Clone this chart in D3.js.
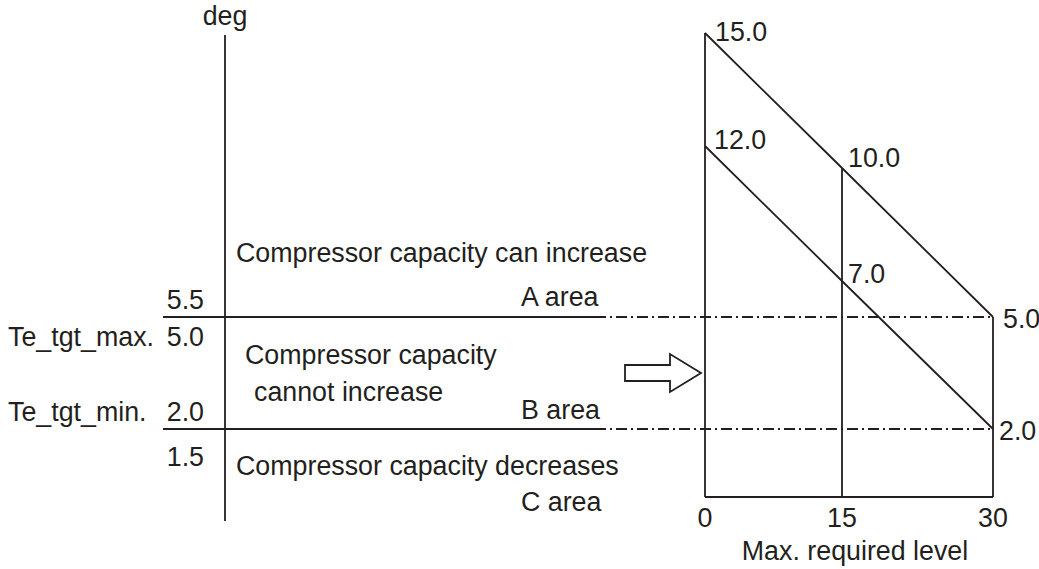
<!DOCTYPE html>
<html>
<head>
<meta charset="utf-8">
<script src="https://cdn.jsdelivr.net/npm/d3@7"></script>
<style>
  html, body { margin: 0; padding: 0; background: #fff; }
  svg text { font-family: "Liberation Sans", Arial, Helvetica, sans-serif; fill: #231f20; }
</style>
</head>
<body>
<svg id="chart" width="1039" height="569"></svg>
<script>
// ---- data ----
const levels = [0, 15, 30];                 // Max. required level ticks
const levelLabels = ["0", "15", "30"];
const upperLine = [15.0, 10.0, 5.0];        // deg at levels 0, 15, 30
const lowerLine = [12.0, 7.0, 2.0];
const tgtMax = 5.0;
const tgtMin = 2.0;
const boundaryLabels = ["5.5", "5.0", "2.0", "1.5"];
const targetNames = ["Te_tgt_max.", "Te_tgt_min."];
const areaTexts = ["Compressor capacity can increase", "Compressor capacity", "cannot increase", "Compressor capacity decreases"];
const areaNames = ["A area", "B area", "C area"];
const axisTitleY = "deg";
const axisTitleX = "Max. required level";

// ---- scales (schematic, piecewise linear) ----
const x = d3.scaleLinear().domain([0, 15, 30]).range([705, 842, 993]);
const y = d3.scaleLinear().domain([0, 2, 5, 7, 10, 12, 15]).range([497, 429, 317, 281, 168, 146, 33]);

const ink = "#231f20";
const sw = 1.8;
const fs = 26.8;
const svg = d3.select("#chart");

// ---- left diagram ----
const axX = 225;
svg.append("line").attr("x1", axX).attr("x2", axX).attr("y1", 35).attr("y2", 521)
  .attr("stroke", ink).attr("stroke-width", sw);
svg.append("text").attr("x", axX).attr("y", 25).attr("text-anchor", "middle")
  .attr("font-size", fs).text(axisTitleY);

const leftStart = 163, solidEnd = 595;
[tgtMax, tgtMin].forEach(v => {
  svg.append("line").attr("x1", leftStart).attr("x2", solidEnd).attr("y1", y(v)).attr("y2", y(v))
    .attr("stroke", ink).attr("stroke-width", sw);
  svg.append("line").attr("x1", solidEnd).attr("x2", x(30)).attr("y1", y(v)).attr("y2", y(v))
    .attr("stroke", ink).attr("stroke-width", sw).attr("stroke-dasharray", "11,4,2,4");
});

// boundary value labels (right aligned)
const bl = [
  {t: boundaryLabels[0], yy: y(tgtMax) - 8},
  {t: boundaryLabels[1], yy: y(tgtMax) + 29},
  {t: boundaryLabels[2], yy: y(tgtMin) - 8},
  {t: boundaryLabels[3], yy: y(tgtMin) + 37}
];
bl.forEach(d => svg.append("text").attr("x", 204).attr("y", d.yy).attr("text-anchor", "end")
  .attr("font-size", fs).text(d.t));
svg.append("text").attr("x", 8).attr("y", y(tgtMax) + 29).attr("font-size", fs).text(targetNames[0]);
svg.append("text").attr("x", 8).attr("y", y(tgtMin) - 8).attr("font-size", fs).text(targetNames[1]);

// area descriptions
svg.append("text").attr("x", 236).attr("y", y(tgtMax) - 55).attr("font-size", fs).text(areaTexts[0]);
svg.append("text").attr("x", 245).attr("y", y(tgtMax) + 47).attr("font-size", fs).text(areaTexts[1]);
svg.append("text").attr("x", 254).attr("y", y(tgtMax) + 84).attr("font-size", fs).text(areaTexts[2]);
svg.append("text").attr("x", 236).attr("y", y(tgtMin) + 46).attr("font-size", fs).text(areaTexts[3]);
svg.append("text").attr("x", 521).attr("y", y(tgtMax) - 11).attr("font-size", fs).text(areaNames[0]);
svg.append("text").attr("x", 521).attr("y", y(tgtMin) - 10).attr("font-size", fs).text(areaNames[1]);
svg.append("text").attr("x", 521).attr("y", y(tgtMin) + 82).attr("font-size", fs).text(areaNames[2]);

// ---- arrow ----
const ax0 = x(0), ay = (y(tgtMax) + y(tgtMin)) / 2;
const arrowPts = [
  [ax0 - 80, ay - 8], [ax0 - 35, ay - 8], [ax0 - 35, ay - 19], [ax0 - 4, ay],
  [ax0 - 35, ay + 19], [ax0 - 35, ay + 8], [ax0 - 80, ay + 8]
];
svg.append("polygon").attr("points", arrowPts.map(p => p.join(",")).join(" "))
  .attr("fill", "#fff").attr("stroke", ink).attr("stroke-width", sw).attr("stroke-linejoin", "miter");

// ---- right diagram ----
svg.append("line").attr("x1", x(0)).attr("x2", x(30)).attr("y1", y(0)).attr("y2", y(0))
  .attr("stroke", ink).attr("stroke-width", sw);
levels.forEach((l, i) => {
  svg.append("line").attr("x1", x(l)).attr("x2", x(l)).attr("y1", y(upperLine[i])).attr("y2", y(0))
    .attr("stroke", ink).attr("stroke-width", sw);
});
const lineGen = d3.line().x((d, i) => x(levels[i])).y(d => y(d));
[upperLine, lowerLine].forEach(s => {
  svg.append("path").attr("d", lineGen(s)).attr("fill", "none")
    .attr("stroke", ink).attr("stroke-width", sw);
});

// value labels
const fmt = d3.format(".1f");
const upOff = [[10, 8], [6, -1], [10, 11]];
const loOff = [[9, 3], [6, 2], [6, 11]];
upperLine.forEach((v, i) => svg.append("text").attr("x", x(levels[i]) + upOff[i][0])
  .attr("y", y(v) + upOff[i][1]).attr("font-size", fs).text(fmt(v)));
lowerLine.forEach((v, i) => svg.append("text").attr("x", x(levels[i]) + loOff[i][0])
  .attr("y", y(v) + loOff[i][1]).attr("font-size", fs).text(fmt(v)));

// x tick labels
levels.forEach((l, i) => svg.append("text").attr("x", x(l)).attr("y", y(0) + 30)
  .attr("text-anchor", "middle").attr("font-size", fs).text(levelLabels[i]));
svg.append("text").attr("x", 855).attr("y", y(0) + 63).attr("text-anchor", "middle")
  .attr("font-size", fs).text(axisTitleX);
</script>
</body>
</html>
